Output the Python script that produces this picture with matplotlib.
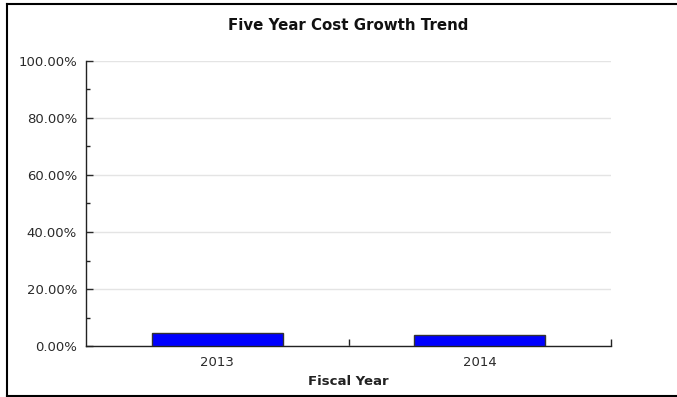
import matplotlib
matplotlib.use("Agg")
import matplotlib.pyplot as plt
from matplotlib.lines import Line2D
from matplotlib.ticker import MultipleLocator, FuncFormatter

# Cost growth per fiscal year, in percent
years = ["2013", "2014"]
growth_pct = [4.4, 3.7]
y_ticks = [0, 20, 40, 60, 80, 100]

plt.rcParams["font.family"] = ["DejaVu Sans"]

W, H = 677, 397
fig = plt.figure(figsize=(W / 100, H / 100), dpi=100)
ax = fig.add_axes([86 / W, 1 - 346 / H, (611 - 86) / W, (346 - 61) / H])

x = range(len(years))
ax.bar(x, growth_pct, width=0.5, color="#0000ff", edgecolor="#333333",
       linewidth=1.0, zorder=3)

ax.set_xlim(-0.5, len(years) - 0.5)
ax.set_ylim(0, 100)
ax.set_yticks(y_ticks)
ax.yaxis.set_minor_locator(MultipleLocator(10))
ax.yaxis.set_major_formatter(FuncFormatter(lambda v, p: f"{v:.2f}%"))
ax.set_xticks(list(x))
ax.set_xticklabels(years)
ax.set_xticks([0.5, 1.5], minor=True)

ax.grid(axis="y", which="major", color="#e4e4e4", linewidth=1.0, zorder=0)
ax.tick_params(axis="y", which="major", direction="in", length=5, width=1,
               labelsize=9.5, pad=6.5, colors="#2a2a2a")
ax.tick_params(axis="y", which="minor", direction="in", length=3, width=1,
               colors="#222222")
ax.tick_params(axis="x", which="major", length=0, labelsize=9.5, pad=7.5,
               colors="#2a2a2a")
ax.tick_params(axis="x", which="minor", direction="in", length=5, width=1,
               colors="#222222")

for side in ("top", "right"):
    ax.spines[side].set_visible(False)
for side in ("left", "bottom"):
    ax.spines[side].set_color("#222222")
    ax.spines[side].set_linewidth(1.0)

ax.set_xlabel("Fiscal Year", fontsize=9.5, fontweight="bold", labelpad=4,
              color="#222222")
fig.text((86 + 611) / 2 / W, 1 - 25 / H, "Five Year Cost Growth Trend",
         ha="center", va="center", fontsize=10.8, fontweight="bold",
         color="#111111")

# Frame around the chart (left, top, bottom edges)
def fx(px):
    return px / W

def fy(py):
    return 1 - py / H

for xs, ys in [([6.5, 6.5], [3.5, 395.5]),
               ([6.5, 677], [3.5, 3.5]),
               ([6.5, 677], [395.5, 395.5])]:
    fig.add_artist(Line2D([fx(v) for v in xs], [fy(v) for v in ys],
                          color="black", linewidth=1.5,
                          transform=fig.transFigure))

fig.savefig("out.png", dpi=100)
